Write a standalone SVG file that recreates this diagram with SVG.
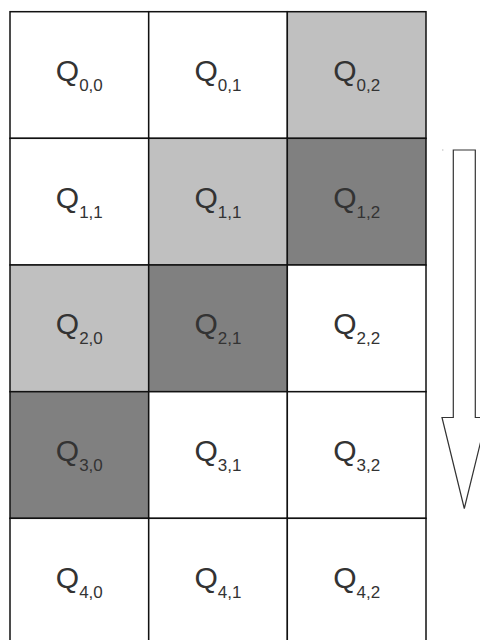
<svg xmlns="http://www.w3.org/2000/svg" width="480" height="640" viewBox="0 0 480 640">
<style>
.c{stroke:#111;stroke-width:1.5}
.w{fill:#fff}.l{fill:#c0c0c0}.d{fill:#808080}
text{font-family:"Liberation Sans",Arial,sans-serif;font-size:30px;fill:#333;text-anchor:middle}
.s{font-size:17px}
</style>
<rect width="480" height="640" fill="#fff"/>
<g id="q00"><rect class="c w" x="10" y="11.7" width="138.7" height="126.7"/><text x="79.3" y="81">Q<tspan class="s" dy="10">0,0</tspan></text></g>
<g id="q01"><rect class="c w" x="148.7" y="11.7" width="138.7" height="126.7"/><text x="218" y="81">Q<tspan class="s" dy="10">0,1</tspan></text></g>
<g id="q02"><rect class="c l" x="287.3" y="11.7" width="138.7" height="126.7"/><text x="356.7" y="81">Q<tspan class="s" dy="10">0,2</tspan></text></g>
<g id="q10"><rect class="c w" x="10" y="138.3" width="138.7" height="126.7"/><text x="79.3" y="207.7">Q<tspan class="s" dy="10">1,1</tspan></text></g>
<g id="q11"><rect class="c l" x="148.7" y="138.3" width="138.7" height="126.7"/><text x="218" y="207.7">Q<tspan class="s" dy="10">1,1</tspan></text></g>
<g id="q12"><rect class="c d" x="287.3" y="138.3" width="138.7" height="126.7"/><text x="356.7" y="207.7">Q<tspan class="s" dy="10">1,2</tspan></text></g>
<g id="q20"><rect class="c l" x="10" y="265" width="138.7" height="126.7"/><text x="79.3" y="334.3">Q<tspan class="s" dy="10">2,0</tspan></text></g>
<g id="q21"><rect class="c d" x="148.7" y="265" width="138.7" height="126.7"/><text x="218" y="334.3">Q<tspan class="s" dy="10">2,1</tspan></text></g>
<g id="q22"><rect class="c w" x="287.3" y="265" width="138.7" height="126.7"/><text x="356.7" y="334.3">Q<tspan class="s" dy="10">2,2</tspan></text></g>
<g id="q30"><rect class="c d" x="10" y="391.7" width="138.7" height="126.7"/><text x="79.3" y="461">Q<tspan class="s" dy="10">3,0</tspan></text></g>
<g id="q31"><rect class="c w" x="148.7" y="391.7" width="138.7" height="126.7"/><text x="218" y="461">Q<tspan class="s" dy="10">3,1</tspan></text></g>
<g id="q32"><rect class="c w" x="287.3" y="391.7" width="138.7" height="126.7"/><text x="356.7" y="461">Q<tspan class="s" dy="10">3,2</tspan></text></g>
<g id="q40"><rect class="c w" x="10" y="518.3" width="138.7" height="126.7"/><text x="79.3" y="587.7">Q<tspan class="s" dy="10">4,0</tspan></text></g>
<g id="q41"><rect class="c w" x="148.7" y="518.3" width="138.7" height="126.7"/><text x="218" y="587.7">Q<tspan class="s" dy="10">4,1</tspan></text></g>
<g id="q42"><rect class="c w" x="287.3" y="518.3" width="138.7" height="126.7"/><text x="356.7" y="587.7">Q<tspan class="s" dy="10">4,2</tspan></text></g>
<g id="connectors">
<polygon points="453.3,150 475.3,150 475.3,417.5 486.6,417.5 464.3,508.5 442,417.5 453.3,417.5" fill="#fff" stroke="#333" stroke-width="1.2"/>
<rect x="442.3" y="149.5" width="1" height="1" fill="#999"/>
</g>
</svg>
